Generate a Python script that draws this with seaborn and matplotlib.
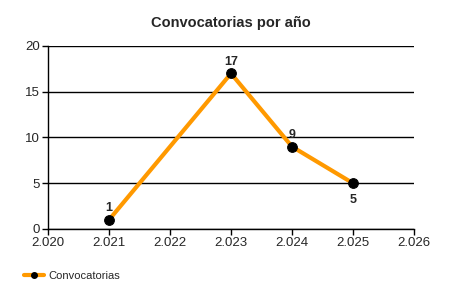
import matplotlib
matplotlib.use("Agg")
import matplotlib.pyplot as plt
import seaborn as sns
import pandas as pd
from matplotlib.ticker import FuncFormatter, MultipleLocator
from matplotlib.lines import Line2D

years = [2021, 2023, 2024, 2025]
counts = [1, 17, 9, 5]
series_name = "Convocatorias"
title = "Convocatorias por año"

sns.set_style("white")
plt.rcParams['font.family'] = ['Liberation Sans', 'DejaVu Sans']

df = pd.DataFrame({"year": years, "count": counts})

fig = plt.figure(figsize=(4.5, 3), dpi=100)
ax = fig.add_axes([0.1067, 0.2367, 0.8133, 0.61])

orange = "#FF9900"
sns.lineplot(data=df, x="year", y="count", ax=ax, color=orange, linewidth=3,
             marker="o", markersize=7, markerfacecolor="black",
             markeredgecolor="black", legend=False)

for x, y in zip(years, counts):
    if x == 2025:
        ax.annotate(str(y), (x, y), xytext=(0, -8), textcoords="offset points",
                    ha="center", va="top", fontsize=9, fontweight="bold")
    else:
        ax.annotate(str(y), (x, y), xytext=(0, 4), textcoords="offset points",
                    ha="center", va="bottom", fontsize=9, fontweight="bold")

ax.set_xlim(2020, 2026)
ax.set_ylim(0, 20)
ax.xaxis.set_major_locator(MultipleLocator(1))
ax.yaxis.set_major_locator(MultipleLocator(5))
ax.xaxis.set_major_formatter(FuncFormatter(lambda v, p: f"{int(v):,}".replace(",", ".")))
ax.yaxis.grid(True, color="black", linewidth=1)
ax.set_axisbelow(True)
ax.set_xlabel("")
ax.set_ylabel("")
ax.tick_params(axis="both", labelsize=9.5, length=4, width=1, color="black",
               direction="out", bottom=True, left=True, pad=2)
for s in ["top", "right"]:
    ax.spines[s].set_visible(False)
for s in ["left", "bottom"]:
    ax.spines[s].set_color("black")
    ax.spines[s].set_linewidth(1)

ax.set_title(title, fontsize=10.5, fontweight="bold", pad=14)

handle = Line2D([0], [0], color=orange, linewidth=3, marker="o", markersize=4,
                markerfacecolor="black", markeredgecolor="black")
fig.legend([handle], [series_name], loc="center left", bbox_to_anchor=(0.03, 0.08),
           frameon=False, fontsize=8, handlelength=1.8, handletextpad=0.4)

fig.savefig("out.png", dpi=100, facecolor="white")
